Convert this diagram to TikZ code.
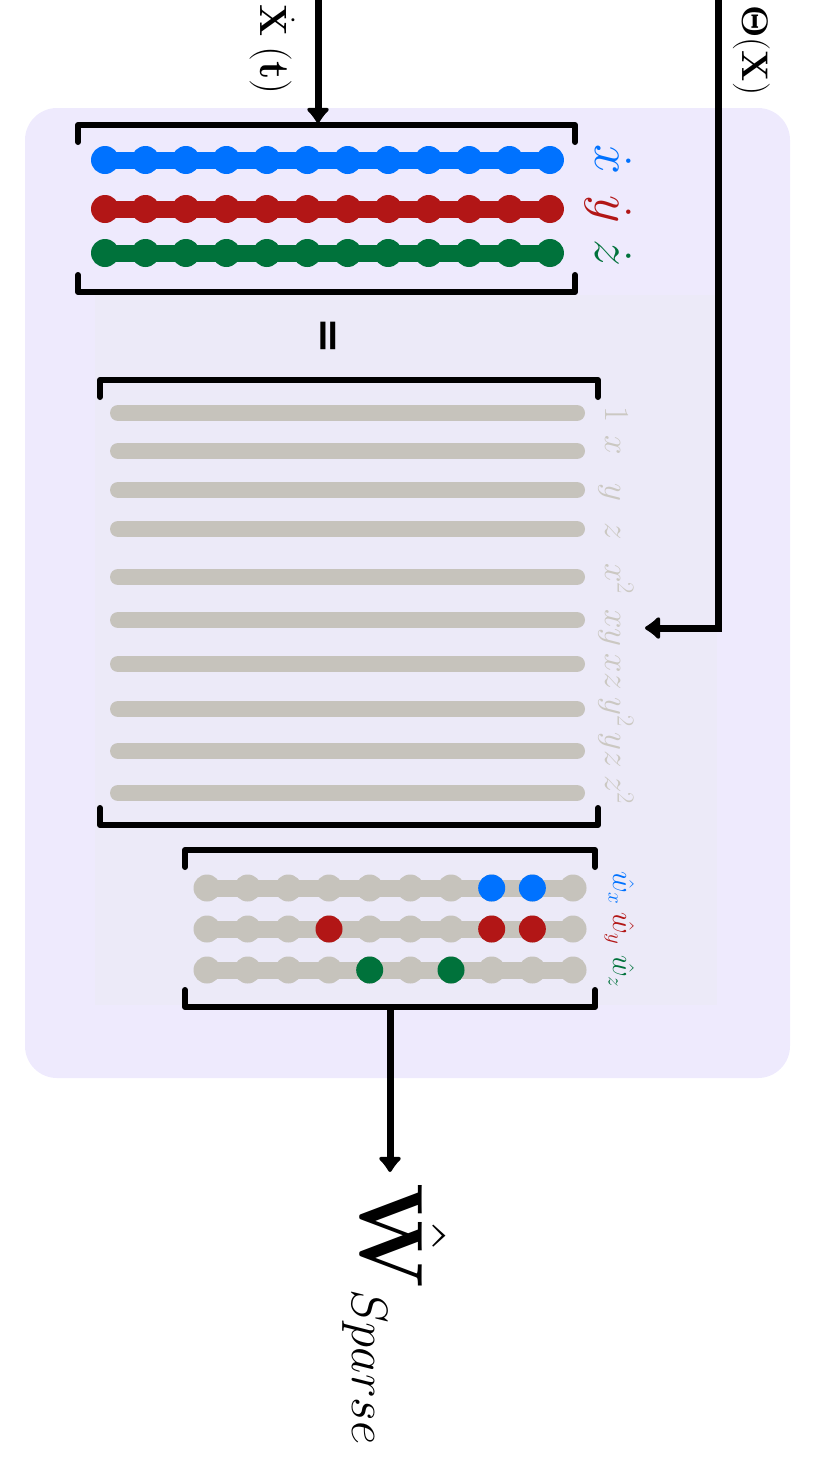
\RequirePackage{fix-cm}
\documentclass[tikz,border=0pt]{standalone}
\usepackage{amsmath}
\usepackage[no-math]{fontspec}
\newfontfamily\eqfont{DejaVu Sans}
\usetikzlibrary{arrows.meta}

\definecolor{xcol}{RGB}{0,114,255}
\definecolor{ycol}{RGB}{178,22,22}
\definecolor{zcol}{RGB}{0,114,59}
\definecolor{libcol}{RGB}{198,195,188}
\definecolor{libtext}{RGB}{203,200,194}
\definecolor{panelcol}{RGB}{238,234,253}
\definecolor{innercol}{RGB}{236,234,248}

\tikzset{
  bracket/.style={line width=6pt,line cap=round,line join=round},
  flow/.style={line width=7pt,-{Latex[length=17pt,width=28pt,round]}},
  band/.style={line width=17pt,line cap=round},
  vlabel/.style={rotate=-90,inner sep=0pt},
}

% x left, x right, y top, y bottom
\newcommand{\matbracket}[4]{
  \draw[bracket] (#1,#3+17) -- (#1,#3) -- (#2,#3) -- (#2,#3+17);
  \draw[bracket] (#1,#4-17) -- (#1,#4) -- (#2,#4) -- (#2,#4-17);
}

\begin{document}
\begin{tikzpicture}[x=1pt,y=-1pt]
\useasboundingbox (0,0) rectangle (816,1457);
\fill[panelcol,rounded corners=32pt] (25,108) rectangle (790,1078);
\fill[innercol] (95,295) rectangle (717,1005);

% derivatives
\matbracket{78}{575}{125}{292}
\foreach \y/\c in {160/xcol,209/ycol,253/zcol}{
  \draw[band,\c] (105,\y) -- (550,\y);
  \foreach \i in {0,...,11}
    \fill[\c] (105+\i*40.45,\y) circle (14pt);
}
\node[vlabel,anchor=base,text=xcol,font=\fontsize{54}{54}\selectfont] (xdot) at (595,160) {$\dot{x}$};
\node[vlabel,anchor=base,text=ycol,font=\fontsize{54}{54}\selectfont] (ydot) at (595,209) {$\dot{y}$};
\node[vlabel,anchor=base,text=zcol,font=\fontsize{54}{54}\selectfont] (zdot) at (595,253) {$\dot{z}$};

\node[vlabel,font=\eqfont\bfseries\fontsize{44}{44}\selectfont] (equals) at (325,336) {=};

% library
\matbracket{100}{598}{380}{825}
\foreach \y/\ly/\t in {413/415/1,451/445/x,490/492/y,529/531/z,577/579/x^2,
    620/628/xy,664/672/xz,709/712/y^2,751/750/yz,793/790/z^2}{
  \draw[band,libcol,line width=16pt] (118,\y) -- (577,\y);
  \node[vlabel,anchor=base,text=libtext,font=\fontsize{35}{35}\selectfont] at (605,\ly) {$\t$};
}

% coefficients
\matbracket{185}{595}{850}{1007}
\foreach \y in {888,929,970}{
  \draw[band,libcol] (207,\y) -- (573,\y);
  \foreach \i in {0,...,9}
    \fill[libcol] (207+\i*40.67,\y) circle (13.5pt);
}
\foreach \i/\y/\c in {7/888/xcol,8/888/xcol,3/929/ycol,7/929/ycol,8/929/ycol,4/970/zcol,6/970/zcol}
  \fill[\c] (207+\i*40.67,\y) circle (13.5pt);
\node[vlabel,anchor=base,text=xcol,font=\fontsize{30}{30}\selectfont] (wx) at (613,888) {$\hat{w}_x$};
\node[vlabel,anchor=base,text=ycol,font=\fontsize{30}{30}\selectfont] (wy) at (613,929) {$\hat{w}_y$};
\node[vlabel,anchor=base,text=zcol,font=\fontsize{30}{30}\selectfont] (wz) at (613,971) {$\hat{w}_z$};

% inputs and output
\coordinate (xin) at (318,-10);
\coordinate (xtop) at (318,123);
\draw[flow] (xin) -- (xtop);
\node[vlabel,anchor=base west,font=\fontsize{38}{38}\selectfont] (xlbl) at (260,4)
  {$\dot{\mathbf{X}}$\hspace{10pt}{\fontsize{42}{42}\selectfont($\mathbf{t}$)}};

\coordinate (thin) at (718,-10);
\coordinate (thbend) at (718,628);
\coordinate (thend) at (645,628);
\draw[flow] (thin) -- (thbend) -- (thend);
\node[vlabel,anchor=base west,font=\fontsize{37}{37}\selectfont] (thlbl) at (742,5) {$\mathbf{\Theta}$(\textbf{X})};

\coordinate (wout) at (390,1007);
\coordinate (wend) at (390,1172);
\draw[flow] (wout) -- (wend);
\node[vlabel,anchor=base west] (wlbl) at (360,1183)
  {\fontsize{90}{90}\selectfont$\hat{\mathbf{W}}$\raisebox{-8pt}{\fontsize{51}{51}\selectfont$Sparse$}};
\end{tikzpicture}
\end{document}
